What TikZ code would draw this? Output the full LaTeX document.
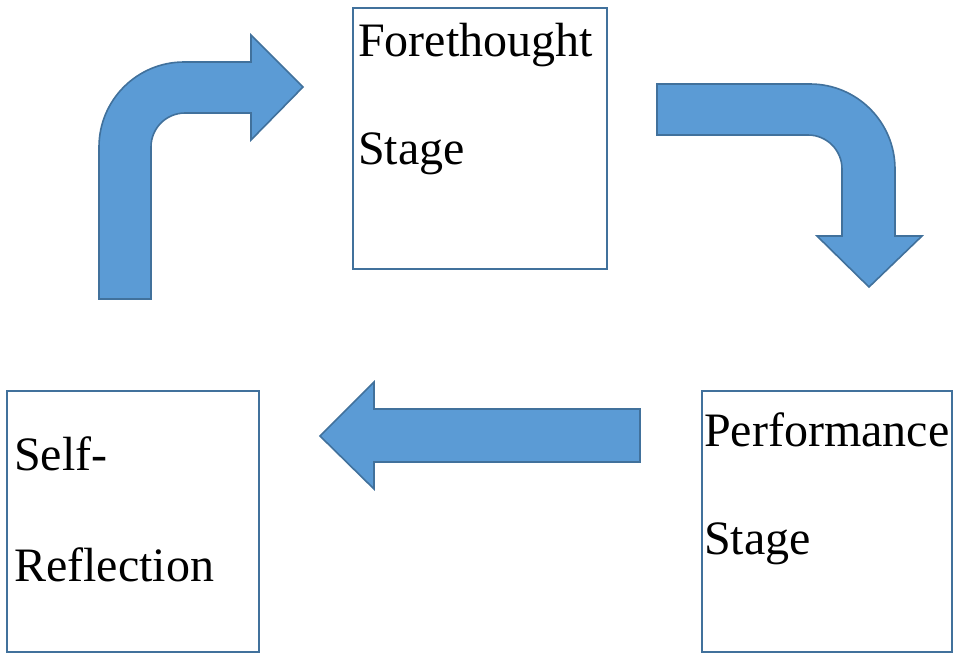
\documentclass[tikz,border=0pt]{standalone}
\usepackage{fontspec}
\setmainfont{Liberation Serif}
\usepackage{xcolor}
\usepackage{tikz}
\definecolor{shapefill}{HTML}{5B9BD5}
\definecolor{shapeline}{HTML}{41719C}

\begin{document}
\begin{tikzpicture}[x=1pt,y=1pt,
    stagebox/.style={draw=shapeline,line width=1.8pt,rectangle,inner sep=0pt},
    stagetext/.style={anchor=base west,inner sep=0pt,font=\fontsize{48}{58}\selectfont},
    blockarrow/.style={fill=shapefill,draw=shapeline,line width=1.6pt,line join=miter}]
    \useasboundingbox (0,0) rectangle (956,-654);

    \node[stagebox,minimum width=254pt,minimum height=261pt] (fore) at (480,-138.5) {};
    \node[stagebox,minimum width=250pt,minimum height=261pt] (perf) at (827,-521.5) {};
    \node[stagebox,minimum width=252pt,minimum height=261pt] (self) at (133,-521.5) {};

    \node[stagetext] (fore1) at ([xshift=6pt,yshift=-49pt]fore.north west) {Forethought};
    \node[stagetext] (fore2) at ([xshift=6pt,yshift=-157pt]fore.north west) {Stage};
    \node[stagetext] (perf1) at ([xshift=3pt,yshift=-56pt]perf.north west) {Performance};
    \node[stagetext] (perf2) at ([xshift=3pt,yshift=-164pt]perf.north west) {Stage};
    \node[stagetext] (self1) at ([xshift=8pt,yshift=-80pt]self.north west) {Self-};
    \node[stagetext] (self2) at ([xshift=8pt,yshift=-191pt]self.north west) {Reflection};

    % up and right
    \draw[blockarrow] (99,-299) -- (99,-147) arc (180:90:85) -- (251,-62) -- (251,-35)
        -- (303,-87) -- (251,-140) -- (251,-113) -- (185,-113) arc (90:180:34)
        -- (151,-299) -- cycle;
    % right and down
    \draw[blockarrow] (657,-84) -- (810,-84) arc (90:0:85) -- (895,-236) -- (922,-236)
        -- (869,-287) -- (817,-236) -- (842,-236) -- (842,-169) arc (0:90:34)
        -- (657,-135) -- cycle;
    % left
    \draw[blockarrow] (640,-409) -- (374,-409) -- (374,-382) -- (320,-436)
        -- (374,-489) -- (374,-462) -- (640,-462) -- cycle;
\end{tikzpicture}
\end{document}
